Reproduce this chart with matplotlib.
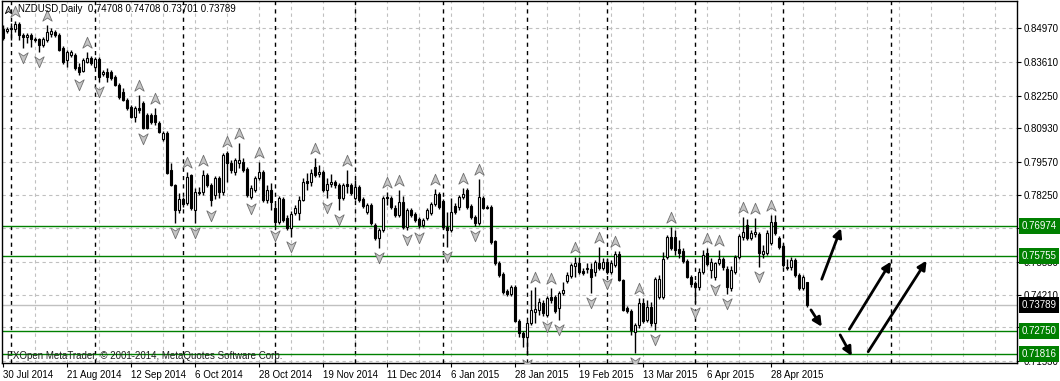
import numpy as np
import matplotlib.pyplot as plt
from matplotlib.path import Path
from matplotlib.transforms import blended_transform_factory

########################################################################
# Data (NZDUSD daily)
########################################################################

opens = [
    .8494, .8486, .8494, .8494, .8514, .8470, .8462, .8470, .8453, .8453,
    .8429, .8449, .8474, .8482, .8470, .8417, .8369, .8389, .8389, .8340,
    .8324, .8361, .8377, .8340, .8373, .8312, .8320, .8320, .8300, .8268,
    .8239, .8207, .8179, .8138, .8175, .8195, .8146, .8146, .8146, .8114,
    .8049, .8074, .7924, .7864, .7763, .7807, .7791, .7904, .7763, .7835,
    .7835, .7904, .7864, .7823, .7892, .7835, .7993, .7952, .7916, .7952,
    .7956, .7928, .7815, .7843, .7892, .7916, .7803, .7843, .7771, .7714,
    .7807, .7730, .7690, .7751, .7751, .7803, .7880, .7876, .7936, .7908,
    .7916, .7843, .7868, .7876, .7864, .7811, .7868, .7864, .7811, .7856,
    .7807, .7755, .7783, .7702, .7650, .7682, .7815, .7811, .7771, .7742,
    .7795, .7694, .7763, .7746, .7726, .7702, .7730, .7751, .7787, .7827,
    .7799, .7694, .7682, .7779, .7775, .7815, .7843, .7779, .7734, .7710,
    .7811, .7775, .7775, .7637, .7548, .7504, .7435, .7423, .7452, .7314,
    .7266, .7250, .7306, .7351, .7359, .7387, .7338, .7411, .7411, .7367,
    .7427, .7476, .7496, .7536, .7548, .7516, .7524, .7524, .7512, .7548,
    .7528, .7553, .7512, .7540, .7585, .7480, .7367, .7355, .7270, .7298,
    .7387, .7318, .7371, .7306, .7411, .7411, .7573, .7654, .7654, .7605,
    .7597, .7557, .7492, .7468, .7452, .7512, .7589, .7520, .7492, .7548,
    .7565, .7524, .7448, .7512, .7573, .7654, .7702, .7650, .7666, .7666,
    .7585, .7589, .7629, .7714, .7650, .7617, .7528, .7532, .7561, .7500,
    .7448, .74708,
]
highs = [
    .8510, .8502, .8518, .8526, .8522, .8478, .8478, .8478, .8462, .8457,
    .8462, .8510, .8498, .8490, .8478, .8425, .8409, .8409, .8397, .8356,
    .8377, .8401, .8385, .8381, .8381, .8328, .8336, .8328, .8308, .8276,
    .8255, .8215, .8187, .8183, .8227, .8203, .8154, .8154, .8175, .8122,
    .8082, .8082, .7952, .7868, .7831, .7815, .7916, .7908, .7851, .7856,
    .7924, .7912, .7872, .7900, .7900, .7993, .8001, .7965, .7973, .8033,
    .7973, .7936, .7864, .7900, .7956, .7924, .7864, .7872, .7787, .7819,
    .7815, .7742, .7759, .7783, .7819, .7892, .7912, .7928, .7973, .7944,
    .7924, .7892, .7908, .7884, .7872, .7872, .7924, .7872, .7884, .7864,
    .7815, .7791, .7791, .7710, .7690, .7819, .7835, .7819, .7783, .7843,
    .7819, .7771, .7771, .7755, .7734, .7730, .7771, .7795, .7847, .7835,
    .7807, .7755, .7811, .7791, .7823, .7851, .7851, .7787, .7742, .7888,
    .7819, .7783, .7783, .7641, .7557, .7512, .7443, .7460, .7460, .7322,
    .7274, .7314, .7439, .7452, .7407, .7399, .7415, .7448, .7419, .7435,
    .7472, .7512, .7548, .7573, .7573, .7528, .7548, .7548, .7561, .7613,
    .7569, .7569, .7561, .7597, .7597, .7484, .7375, .7363, .7306, .7407,
    .7407, .7399, .7391, .7492, .7500, .7593, .7662, .7694, .7682, .7641,
    .7609, .7565, .7500, .7476, .7528, .7601, .7609, .7569, .7553, .7601,
    .7573, .7536, .7536, .7581, .7666, .7734, .7726, .7682, .7730, .7674,
    .7621, .7682, .7742, .7742, .7658, .7625, .7565, .7573, .7569, .7508,
    .7500, .74708,
]
lows = [
    .8449, .8478, .8449, .8482, .8449, .8417, .8437, .8421, .8441, .8401,
    .8421, .8441, .8462, .8462, .8405, .8352, .8340, .8381, .8328, .8308,
    .8320, .8356, .8348, .8336, .8280, .8304, .8280, .8288, .8264, .8211,
    .8203, .8167, .8134, .8118, .8154, .8090, .8090, .8110, .8106, .8074,
    .8041, .7908, .7860, .7710, .7751, .7775, .7783, .7763, .7710, .7823,
    .7823, .7856, .7779, .7807, .7811, .7823, .7876, .7912, .7904, .7932,
    .7916, .7815, .7807, .7835, .7884, .7795, .7791, .7763, .7698, .7706,
    .7714, .7682, .7654, .7742, .7722, .7799, .7843, .7860, .7896, .7896,
    .7835, .7811, .7856, .7851, .7763, .7803, .7831, .7823, .7803, .7795,
    .7771, .7746, .7702, .7641, .7609, .7674, .7783, .7767, .7734, .7734,
    .7686, .7682, .7734, .7714, .7690, .7694, .7722, .7742, .7779, .7767,
    .7686, .7613, .7674, .7746, .7763, .7807, .7767, .7726, .7698, .7702,
    .7767, .7767, .7625, .7540, .7492, .7423, .7415, .7415, .7310, .7250,
    .7209, .7177, .7298, .7306, .7338, .7334, .7330, .7387, .7347, .7318,
    .7419, .7468, .7488, .7492, .7504, .7500, .7508, .7427, .7496, .7520,
    .7520, .7504, .7504, .7532, .7476, .7355, .7347, .7258, .7185, .7286,
    .7306, .7310, .7294, .7278, .7403, .7403, .7565, .7601, .7581, .7569,
    .7548, .7488, .7452, .7387, .7439, .7504, .7536, .7488, .7480, .7540,
    .7520, .7423, .7435, .7504, .7565, .7641, .7641, .7641, .7654, .7532,
    .7569, .7581, .7621, .7662, .7605, .7532, .7520, .7520, .7492, .7439,
    .7439, .73701,
]
closes = [
    .8457, .8494, .8498, .8514, .8470, .8462, .8470, .8453, .8449, .8429,
    .8453, .8482, .8486, .8470, .8409, .8361, .8401, .8401, .8336, .8320,
    .8369, .8377, .8356, .8373, .8300, .8320, .8300, .8296, .8268, .8219,
    .8207, .8175, .8138, .8175, .8167, .8094, .8094, .8118, .8118, .8078,
    .8074, .7912, .7864, .7763, .7807, .7787, .7896, .7771, .7835, .7831,
    .7904, .7864, .7803, .7892, .7835, .7985, .7952, .7924, .7965, .7965,
    .7924, .7823, .7851, .7892, .7916, .7803, .7843, .7795, .7714, .7811,
    .7722, .7690, .7746, .7771, .7803, .7876, .7872, .7912, .7904, .7916,
    .7843, .7868, .7876, .7864, .7811, .7864, .7860, .7831, .7856, .7803,
    .7779, .7783, .7710, .7650, .7682, .7811, .7811, .7775, .7742, .7795,
    .7694, .7763, .7742, .7722, .7702, .7722, .7763, .7787, .7827, .7775,
    .7694, .7682, .7755, .7755, .7815, .7827, .7775, .7734, .7710, .7815,
    .7771, .7771, .7633, .7548, .7500, .7431, .7423, .7452, .7314, .7266,
    .7250, .7306, .7359, .7363, .7391, .7347, .7407, .7399, .7355, .7427,
    .7439, .7500, .7540, .7548, .7512, .7508, .7528, .7492, .7553, .7528,
    .7553, .7512, .7548, .7585, .7480, .7359, .7355, .7278, .7298, .7387,
    .7314, .7371, .7306, .7484, .7484, .7565, .7654, .7609, .7601, .7589,
    .7557, .7492, .7464, .7452, .7512, .7581, .7544, .7553, .7548, .7565,
    .7532, .7452, .7520, .7573, .7658, .7674, .7650, .7670, .7674, .7589,
    .7597, .7670, .7714, .7670, .7613, .7540, .7532, .7561, .7500, .7448,
    .7492, .73789,
]

date_labels = ['30 Jul 2014', '21 Aug 2014', '12 Sep 2014', '6 Oct 2014',
               '28 Oct 2014', '19 Nov 2014', '11 Dec 2014', '6 Jan 2015',
               '28 Jan 2015', '19 Feb 2015', '13 Mar 2015', '6 Apr 2015',
               '28 Apr 2015']
month_starts = [2, 23, 45, 68, 88, 110, 131, 151, 173, 195, 222]
price_grid = [0.84970, 0.83610, 0.82250, 0.80930, 0.79570, 0.78250,
              0.76890, 0.75530, 0.74210, 0.72890, 0.71530]
levels = [0.76974, 0.75755, 0.72750, 0.71816]
last_price = 0.73789

# hand-drawn forecast arrows: (bar, price) start -> end
arrows = [
    ((204.6, 0.7483), (209.4, 0.7689)),
    ((201.9, 0.7359), (204.6, 0.7291)),
    ((209.2, 0.7258), (212.1, 0.7173)),
    ((211.5, 0.7281), (221.9, 0.7554)),
    ((216.2, 0.7190), (230.8, 0.7558)),
]

########################################################################
# Plot
########################################################################

plt.rcParams['font.family'] = ['Liberation Sans', 'DejaVu Sans']
fs = 7

fig = plt.figure(figsize=(10.6, 3.81), dpi=100)
ax = fig.add_axes([2 / 1060, 18 / 381, 1015 / 1060, 362 / 381])
ax.set_xlim(-0.3, 253.4)
ax.set_ylim(0.71445, 0.8607)

# grid
for p in price_grid:
    ax.axhline(p, color='#c0c0c0', lw=0.8, ls=(0, (3, 3)), zorder=0)
for gx in range(8, 254, 8):
    ax.axvline(gx, color='#c0c0c0', lw=0.8, ls=(0, (3, 3)), zorder=0)
for m in month_starts:
    ax.axvline(m, color='black', lw=1, ls=(0, (3, 3)), zorder=1)

# levels
for lvl in levels:
    ax.axhline(lvl, color='#008000', lw=1, zorder=2)
ax.axhline(last_price, color='#c0c0c0', lw=1, zorder=1)

# candles
o = np.array(opens)
c = np.array(closes)
x = np.arange(len(c))
up = c >= o
bottom = np.minimum(o, c)
height = np.maximum(np.abs(c - o), 0.0003)
ax.vlines(x, lows, highs, color='black', lw=1, zorder=3)
ax.bar(x[up], height[up], bottom=bottom[up], width=0.55, color='white',
       edgecolor='black', lw=0.8, zorder=4)
ax.bar(x[~up], height[~up], bottom=bottom[~up], width=0.55, color='black',
       edgecolor='black', lw=0.8, zorder=4)

# fractals
h = np.array(highs)
l = np.array(lows)
up_marker = Path([(0, 1), (0.75, -0.75), (0, -0.25), (-0.75, -0.75), (0, 1)],
                 [Path.MOVETO, Path.LINETO, Path.LINETO, Path.LINETO, Path.CLOSEPOLY])
dn_marker = Path([(0, -1), (0.75, 0.75), (0, 0.25), (-0.75, 0.75), (0, -1)],
                 [Path.MOVETO, Path.LINETO, Path.LINETO, Path.LINETO, Path.CLOSEPOLY])
fx_up, fx_dn = [], []
for i in range(2, len(h) - 2):
    if h[i] > h[i - 1] and h[i] > h[i - 2] and h[i] >= h[i + 1] and h[i] >= h[i + 2]:
        fx_up.append(i)
    if l[i] < l[i - 1] and l[i] < l[i - 2] and l[i] <= l[i + 1] and l[i] <= l[i + 2]:
        fx_dn.append(i)
off = 0.0037
ax.plot(fx_up, h[fx_up] + off, ls='none', marker=up_marker, ms=9,
        mfc='#c4c4c4', mec='#707070', mew=0.6, zorder=5)
ax.plot(fx_dn, l[fx_dn] - off, ls='none', marker=dn_marker, ms=9,
        mfc='#c4c4c4', mec='#707070', mew=0.6, zorder=5)

# arrows
for start, end in arrows:
    ax.annotate('', xy=end, xytext=start,
                arrowprops=dict(arrowstyle='-|>', color='black', lw=2,
                                mutation_scale=13, shrinkA=0, shrinkB=0),
                zorder=6)

# axes styling
for s in ax.spines.values():
    s.set_color('black')
    s.set_linewidth(1)
ax.yaxis.tick_right()
ax.set_yticks(price_grid)
ax.set_yticklabels([f'{p:.5f}' for p in price_grid])
ax.tick_params(axis='y', labelsize=fs, length=3, pad=2, width=0.8)

ax.set_xticks(np.arange(len(date_labels)) * 16)
ax.set_xticklabels(date_labels)
ax.tick_params(axis='x', labelsize=fs, length=3, pad=2, width=0.8)
for lab in ax.get_xticklabels():
    lab.set_horizontalalignment('left')

# price boxes on right axis
tr = blended_transform_factory(ax.transAxes, ax.transData)
for lvl in levels:
    ax.text(1.0045, lvl, f'{lvl:.5f}', transform=tr, ha='left', va='center',
            fontsize=fs, color='white', clip_on=False, zorder=10,
            bbox=dict(boxstyle='square,pad=0.3', fc='#008000', ec='none'))
ax.text(1.0045, last_price, f'{last_price:.5f}', transform=tr, ha='left',
        va='center', fontsize=fs, color='white', clip_on=False, zorder=10,
        bbox=dict(boxstyle='square,pad=0.3', fc='black', ec='none'))

# texts
fig.text(18 / 1060, 1 - 9 / 381,
         'NZDUSD,Daily  0.74708 0.74708 0.73701 0.73789',
         fontsize=fs, va='center', ha='left')
ax.plot([0.006], [0.976], transform=ax.transAxes, marker=up_marker, ms=6,
        mfc='#b8b8b8', mec='black', mew=0.6, clip_on=False)
fig.text(7 / 1060, 1 - 356 / 381,
         'FXOpen MetaTrader, \u00a9 2001-2014, MetaQuotes Software Corp.',
         fontsize=fs, va='center', ha='left', color='#202020')

plt.savefig('out.png', dpi=100)
